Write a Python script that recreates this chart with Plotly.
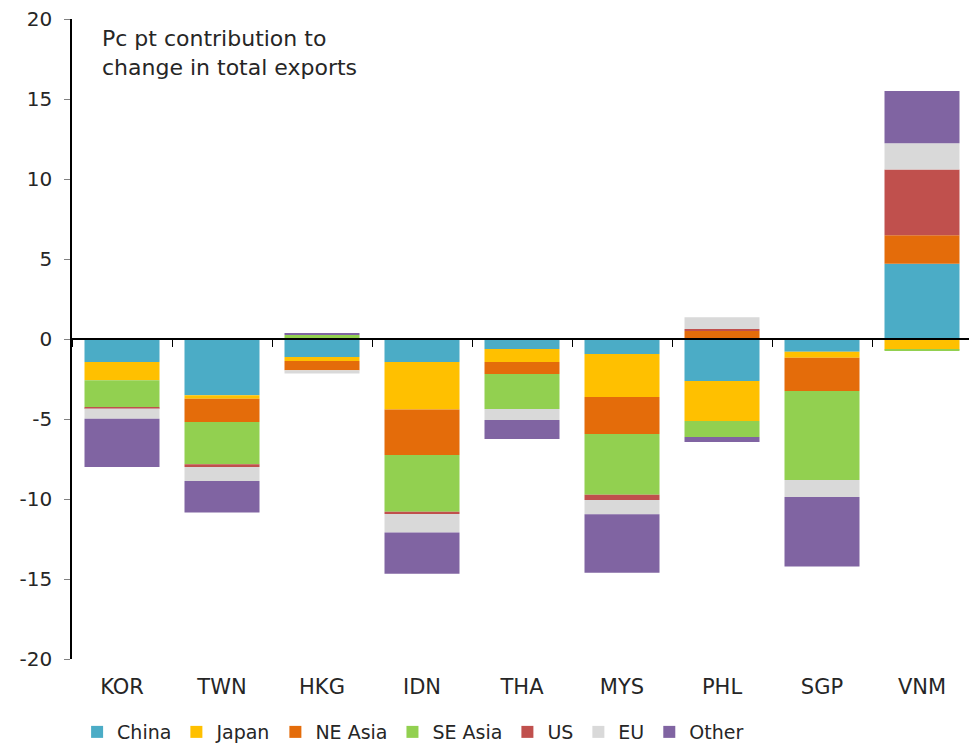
import plotly.graph_objects as go

countries = ["KOR", "TWN", "HKG", "IDN", "THA", "MYS", "PHL", "SGP", "VNM"]
series_names = ["China", "Japan", "NE Asia", "SE Asia", "US", "EU", "Other"]
colors = ["#4BACC6", "#FFC000", "#E46C0A", "#92D050", "#C0504D", "#D9D9D9", "#8064A2"]

china   = [-1.44, -3.52, -1.12, -1.44, -0.62, -0.94, -2.62, -0.79, 4.71]
japan   = [-1.14, -0.21, -0.25, -2.96, -0.81, -2.69, -2.50, -0.38, -0.65]
ne_asia = [0.00, -1.46, -0.58, -2.85, -0.75, -2.31, 0.50, -2.08, 1.77]
se_asia = [-1.69, -2.64, 0.25, -3.54, -2.19, -3.79, -1.00, -5.56, -0.10]
us      = [-0.08, -0.17, 0.00, -0.15, 0.00, -0.33, 0.13, 0.00, 4.12]
eu      = [-0.63, -0.88, -0.21, -1.15, -0.69, -0.90, 0.73, -1.06, 1.63]
other   = [-3.02, -1.96, 0.08, -2.58, -1.19, -3.65, -0.31, -4.35, 3.27]

series_values = [china, japan, ne_asia, se_asia, us, eu, other]

y_ticks = [-20, -15, -10, -5, 0, 5, 10, 15, 20]
y_tick_labels = ["-20", "-15", "-10", "-5", "0", "5", "10", "15", "20"]

FONT = "DejaVu Sans"
TXT = "#262626"

fig = go.Figure()
for name, vals, col in zip(series_names, series_values, colors):
    fig.add_trace(go.Bar(
        x=countries, y=vals, name=name,
        marker=dict(color=col, line=dict(width=0)),
        xaxis="x", yaxis="y",
    ))

# invisible trace to drive the zero-line axis with boundary ticks
fig.add_trace(go.Scatter(
    x=countries, y=[0] * len(countries), mode="none",
    xaxis="x2", yaxis="y", showlegend=False, hoverinfo="skip",
))

# the page body adds an 8px margin, so the figure is sized to fill the rest
fig.update_layout(
    width=969, height=737,
    barmode="relative",
    bargap=0.25,
    plot_bgcolor="white", paper_bgcolor="white",
    margin=dict(l=64, r=5, t=11, b=86, autoexpand=False),
    font=dict(family=FONT, color=TXT, size=19),
    xaxis=dict(
        categoryorder="array", categoryarray=countries,
        showline=False, ticks="", showgrid=False, zeroline=False,
        tickfont=dict(size=21, color=TXT),
        ticklabelstandoff=13, automargin=False,
    ),
    xaxis2=dict(
        overlaying="x", matches="x", anchor="free", position=0.5,
        categoryorder="array", categoryarray=countries,
        showline=True, linecolor="black", linewidth=2,
        ticks="outside", tickson="boundaries", ticklen=7, tickcolor="black", tickwidth=1.2,
        showticklabels=False, showgrid=False, zeroline=False, automargin=False,
    ),
    yaxis=dict(
        range=[-20, 20], tickvals=y_ticks, ticktext=y_tick_labels,
        showline=True, linecolor="black", linewidth=1.5,
        ticks="outside", ticklen=6, tickcolor="#808080", tickwidth=1,
        showgrid=False, zeroline=False,
        tickfont=dict(size=20, color=TXT),
        ticklabelstandoff=8, automargin=False, ticklabeloverflow="allow",
    ),
    legend=dict(
        orientation="h", x=0.379, xanchor="center",
        yref="container", y=0.0176, yanchor="middle",
        font=dict(size=19, color=TXT), traceorder="normal",
        itemwidth=30, tracegroupgap=0,
    ),
    annotations=[dict(
        text="Pc pt contribution to<br>change in total exports",
        xref="paper", yref="paper", x=0.031, y=0.992, xanchor="left", yanchor="top",
        showarrow=False, align="left", font=dict(size=22, color=TXT),
    )],
)

fig.write_html("out.html")
